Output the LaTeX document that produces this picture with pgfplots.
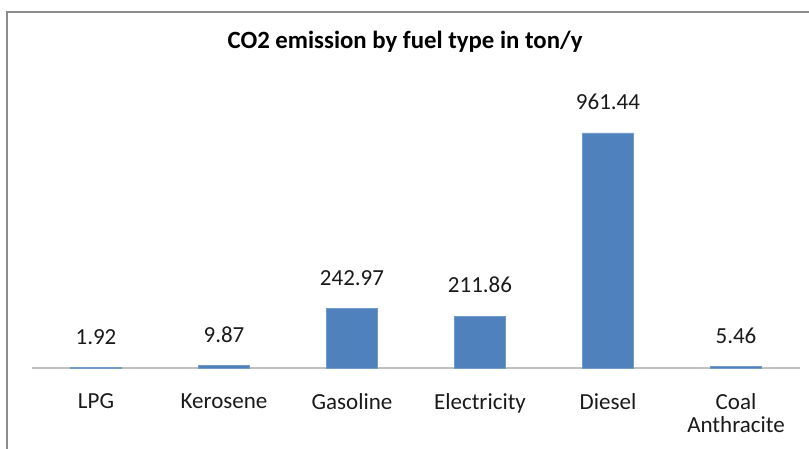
\documentclass[border=0pt]{standalone}
\usepackage{fontspec}
\setmainfont{Carlito}
\usepackage{pgfplots}
\pgfplotsset{compat=1.18}
\definecolor{barblue}{HTML}{4F81BD}
\definecolor{baseclr}{HTML}{BFBFBF}
\definecolor{frameclr}{HTML}{8C8C8C}
\definecolor{txt}{HTML}{1A1A1A}
\begin{document}
\begin{tikzpicture}
% page size: 809x449 px at 0.5pt per px
\path[use as bounding box] (-16pt,-40.5pt) rectangle (388.5pt,184pt);
\draw[frameclr, line width=0.75pt] (388.5pt,178pt) -- (-12.5pt,178pt) -- (-12.5pt,-41pt);
\node[font=\fontsize{12.4}{15}\selectfont\bfseries, text=black] at (186.5pt,163pt) {CO2 emission by fuel type in ton/y};
\begin{axis}[
    scale only axis,
    width=384pt,
    height=164pt,
    ybar,
    bar width=25.5pt,
    xmin=-0.5, xmax=5.5,
    ymin=0, ymax=1341.5,
    axis x line=bottom,
    axis y line=none,
    x axis line style={draw=baseclr, line width=0.75pt, -},
    xtick=data,
    xticklabels={LPG,Kerosene,Gasoline,Electricity,Diesel,{Coal\\Anthracite}},
    xtick style={draw=none},
    xticklabel style={align=center, font=\fontsize{11.5}{11.5}\selectfont, text=txt, yshift=-7pt},
    point meta=explicit symbolic,
    nodes near coords,
    every node near coord/.append style={font=\fontsize{11.5}{13}\selectfont, text=txt, yshift=8pt},
    clip=false,
]
\addplot[fill=barblue, draw=barblue!80!white] coordinates {
    (0,1.92) [1.92]
    (1,9.87) [9.87]
    (2,242.97) [242.97]
    (3,211.86) [211.86]
    (4,961.44) [961.44]
    (5,5.46) [5.46]
};
\end{axis}
\end{tikzpicture}
\end{document}
